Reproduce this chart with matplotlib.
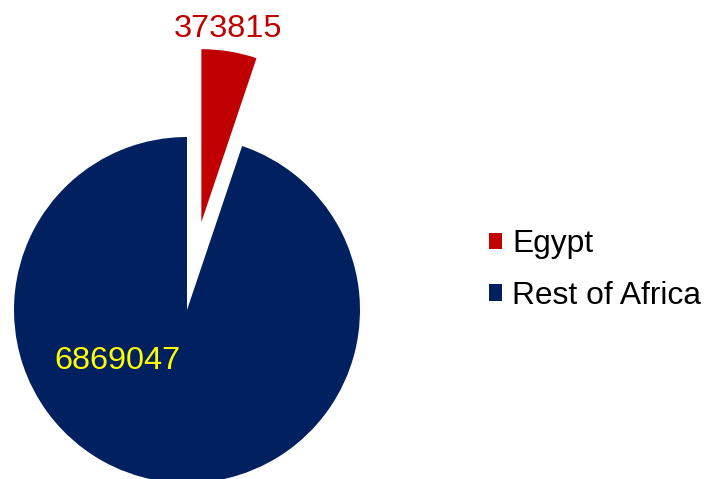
import matplotlib
matplotlib.use("Agg")
import matplotlib.pyplot as plt

labels = ["Egypt", "Rest of Africa"]
values = [373815, 6869047]
colors = ["#C00000", "#002060"]
label_colors = ["#C00000", "#FFFF00"]

plt.rcParams["font.family"] = ["Liberation Sans", "DejaVu Sans"]

W, H = 705, 479
fig = plt.figure(figsize=(W / 100, H / 100), dpi=100)
ax = fig.add_axes([0, 0, 1, 1])

# pie laid out in pixel units (y up)
center = (187, H - 310)
radius = 173
wedges, _ = ax.pie(values, colors=colors, startangle=90, counterclock=False,
                   explode=[89, 0], center=center, radius=radius,
                   wedgeprops=dict(linewidth=0))

ax.set_xlim(0, W)
ax.set_ylim(0, H)
ax.set_aspect("equal")
ax.axis("off")

# value labels
ax.text(228, H - 29, f"{values[0]}", color=label_colors[0], fontsize=23.4,
        ha="center", va="center")
ax.text(117, H - 361, f"{values[1]}", color=label_colors[1], fontsize=23.4,
        ha="center", va="center")

ax.legend(wedges, labels, loc="center left", bbox_to_anchor=(489 / W, 1 - 270 / H),
          frameon=False, fontsize=22.9, handlelength=0.42, handleheight=0.42,
          handletextpad=0.3, labelspacing=0.68, borderpad=0, borderaxespad=0)

fig.savefig("out.png", dpi=100)
